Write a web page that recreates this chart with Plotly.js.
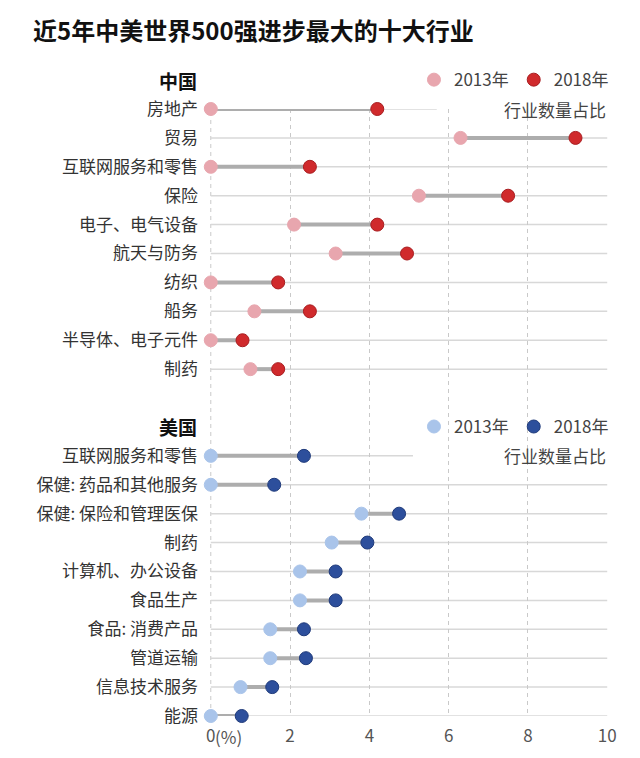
<!DOCTYPE html>
<html lang="zh">
<head>
    <meta charset="UTF-8"/>
    <title>近5年中美世界500强进步最大的十大行业</title>
    <script src="https://cdn.plot.ly/plotly-3.0.1.min.js"></script>
    <style>
    body { margin: 0; background: white; }
    #chart { width: 640px; height: 758px; }
    </style>
</head>
<body>
    <div id="chart"></div>
    <script>
        // data (share of industry among Fortune 500 companies, %)
        var cnIndustries = ['房地产', '贸易', '互联网服务和零售', '保险', '电子、电气设备',
                            '航天与防务', '纺织', '船务', '半导体、电子元件', '制药'];
        var cn2013 = [0, 6.3, 0, 5.25, 2.1, 3.15, 0, 1.1, 0, 1.0];
        var cn2018 = [4.2, 9.2, 2.5, 7.5, 4.2, 4.95, 1.7, 2.5, 0.8, 1.7];

        var usIndustries = ['互联网服务和零售', '保健: 药品和其他服务', '保健: 保险和管理医保', '制药',
                            '计算机、办公设备', '食品生产', '食品: 消费产品', '管道运输', '信息技术服务', '能源'];
        var us2013 = [0, 0, 3.8, 3.05, 2.25, 2.25, 1.5, 1.5, 0.75, 0];
        var us2018 = [2.35, 1.6, 4.75, 3.95, 3.15, 3.15, 2.35, 2.4, 1.55, 0.78];

        var xTicks = [0, 2, 4, 6, 8, 10];

        //=============================================================
        // row layout: China rows 0..9, gap, US rows 12..21
        var cnRows = cnIndustries.map(function (d, i) { return i; });
        var usRows = usIndustries.map(function (d, i) { return i + 12; });
        var lastRow = 21;

        var FONT = '"Noto Sans CJK SC", "Noto Sans", sans-serif';
        var GRAY_LINE = '#ADADAD';

        function connector(a, b, rows) {
            var x = [], y = [];
            for (var i = 0; i < rows.length; i++) {
                x.push(a[i], b[i], null);
                y.push(rows[i], rows[i], null);
            }
            return {
                x: x, y: y, type: 'scatter', mode: 'lines',
                line: { color: GRAY_LINE, width: 4 },
                hoverinfo: 'skip', showlegend: false, cliponaxis: false
            };
        }

        function dots(vals, rows, name, color, edge, legend) {
            return {
                x: vals, y: rows, name: name, type: 'scatter', mode: 'markers',
                marker: { size: 13, color: color, line: { color: edge, width: 1 } },
                cliponaxis: false, legend: legend
            };
        }

        var data = [
            connector(cn2013, cn2018, cnRows),
            connector(us2013, us2018, usRows),
            dots(cn2013, cnRows, '2013年', '#E8A6AE', '#E8A6AE', 'legend'),
            dots(cn2018, cnRows, '2018年', '#D02A2C', '#A81D20', 'legend'),
            dots(us2013, usRows, '2013年', '#A9C4EA', '#A9C4EA', 'legend2'),
            dots(us2018, usRows, '2018年', '#2D4F9C', '#1F3A7A', 'legend2')
        ];

        // light horizontal line for every row (first row of each block is shorter)
        var shapes = [];
        cnRows.concat(usRows).forEach(function (r) {
            var end = r === 0 ? 5.7 : (r === 12 ? 5.1 : 10);
            shapes.push({
                type: 'line', xref: 'x', yref: 'y', x0: 0, x1: end, y0: r, y1: r,
                line: { color: '#D8D8D8', width: 1.5 }, layer: 'below'
            });
        });
        // dashed line at 0 (the axis drops its grid line at the edge)
        shapes.push({
            type: 'line', xref: 'x', yref: 'paper', x0: 0, x1: 0, y0: 0, y1: 1,
            line: { color: '#C9C9C9', width: 1, dash: '4px,4px' }, layer: 'below'
        });

        function rowToPaper(r) { return 1 - r / lastRow; }

        var annotations = [
            { text: '<b>中国</b>', xref: 'paper', yref: 'paper', x: 0, y: rowToPaper(-1),
              xanchor: 'right', yanchor: 'middle', xshift: -11, showarrow: false,
              font: { family: FONT, size: 19, color: '#111' } },
            { text: '<b>美国</b>', xref: 'paper', yref: 'paper', x: 0, y: rowToPaper(11),
              xanchor: 'right', yanchor: 'middle', xshift: -11, showarrow: false,
              font: { family: FONT, size: 19, color: '#111' } },
            { text: '行业数量占比', xref: 'paper', yref: 'paper', x: 1, y: rowToPaper(0),
              xanchor: 'right', yanchor: 'middle', showarrow: false,
              font: { family: FONT, size: 17, color: '#444' } },
            { text: '行业数量占比', xref: 'paper', yref: 'paper', x: 1, y: rowToPaper(12),
              xanchor: 'right', yanchor: 'middle', showarrow: false,
              font: { family: FONT, size: 17, color: '#444' } },
            { text: '(%)', xref: 'x', yref: 'paper', x: 0, y: -0.033,
              xanchor: 'left', yanchor: 'middle', xshift: 2, showarrow: false,
              font: { family: FONT, size: 17, color: '#555' } }
        ];

        var legendStyle = function (row) {
            return {
                orientation: 'h', x: 1.015, xanchor: 'right', y: rowToPaper(row), yanchor: 'middle',
                font: { family: FONT, size: 17, color: '#444' },
                itemwidth: 30, bgcolor: 'rgba(0,0,0,0)'
            };
        };

        var layout = {
            width: 640, height: 758,
            margin: { l: 210, r: 32, t: 109, b: 42 },
            paper_bgcolor: 'white', plot_bgcolor: 'white',
            font: { family: FONT, color: '#333' },
            title: {
                text: '<b>近5年中美世界500强进步最大的十大行业</b>',
                x: 33 / 640, xanchor: 'left', xref: 'container',
                y: 1 - 32 / 758, yanchor: 'middle', yref: 'container',
                font: { family: FONT, size: 24, color: '#111' }
            },
            xaxis: {
                range: [-0.02, 10.02], tickvals: xTicks, ticktext: xTicks.map(String),
                showgrid: true, gridcolor: '#C9C9C9', griddash: '4px,4px', gridwidth: 1,
                zeroline: false, showline: false, ticks: '',
                tickfont: { family: FONT, size: 17, color: '#555' },
                ticklabelstandoff: 8, fixedrange: true
            },
            yaxis: {
                range: [lastRow, 0],
                tickvals: cnRows.concat(usRows),
                ticktext: cnIndustries.concat(usIndustries),
                showgrid: false, zeroline: false, showline: false, ticks: '',
                tickfont: { family: FONT, size: 17, color: '#333' },
                ticklabelstandoff: 11, fixedrange: true
            },
            shapes: shapes,
            annotations: annotations,
            showlegend: true,
            legend: legendStyle(-1),
            legend2: legendStyle(11),
            hovermode: false
        };

        Plotly.newPlot('chart', data, layout, { staticPlot: true });
    </script>
</body>
</html>
